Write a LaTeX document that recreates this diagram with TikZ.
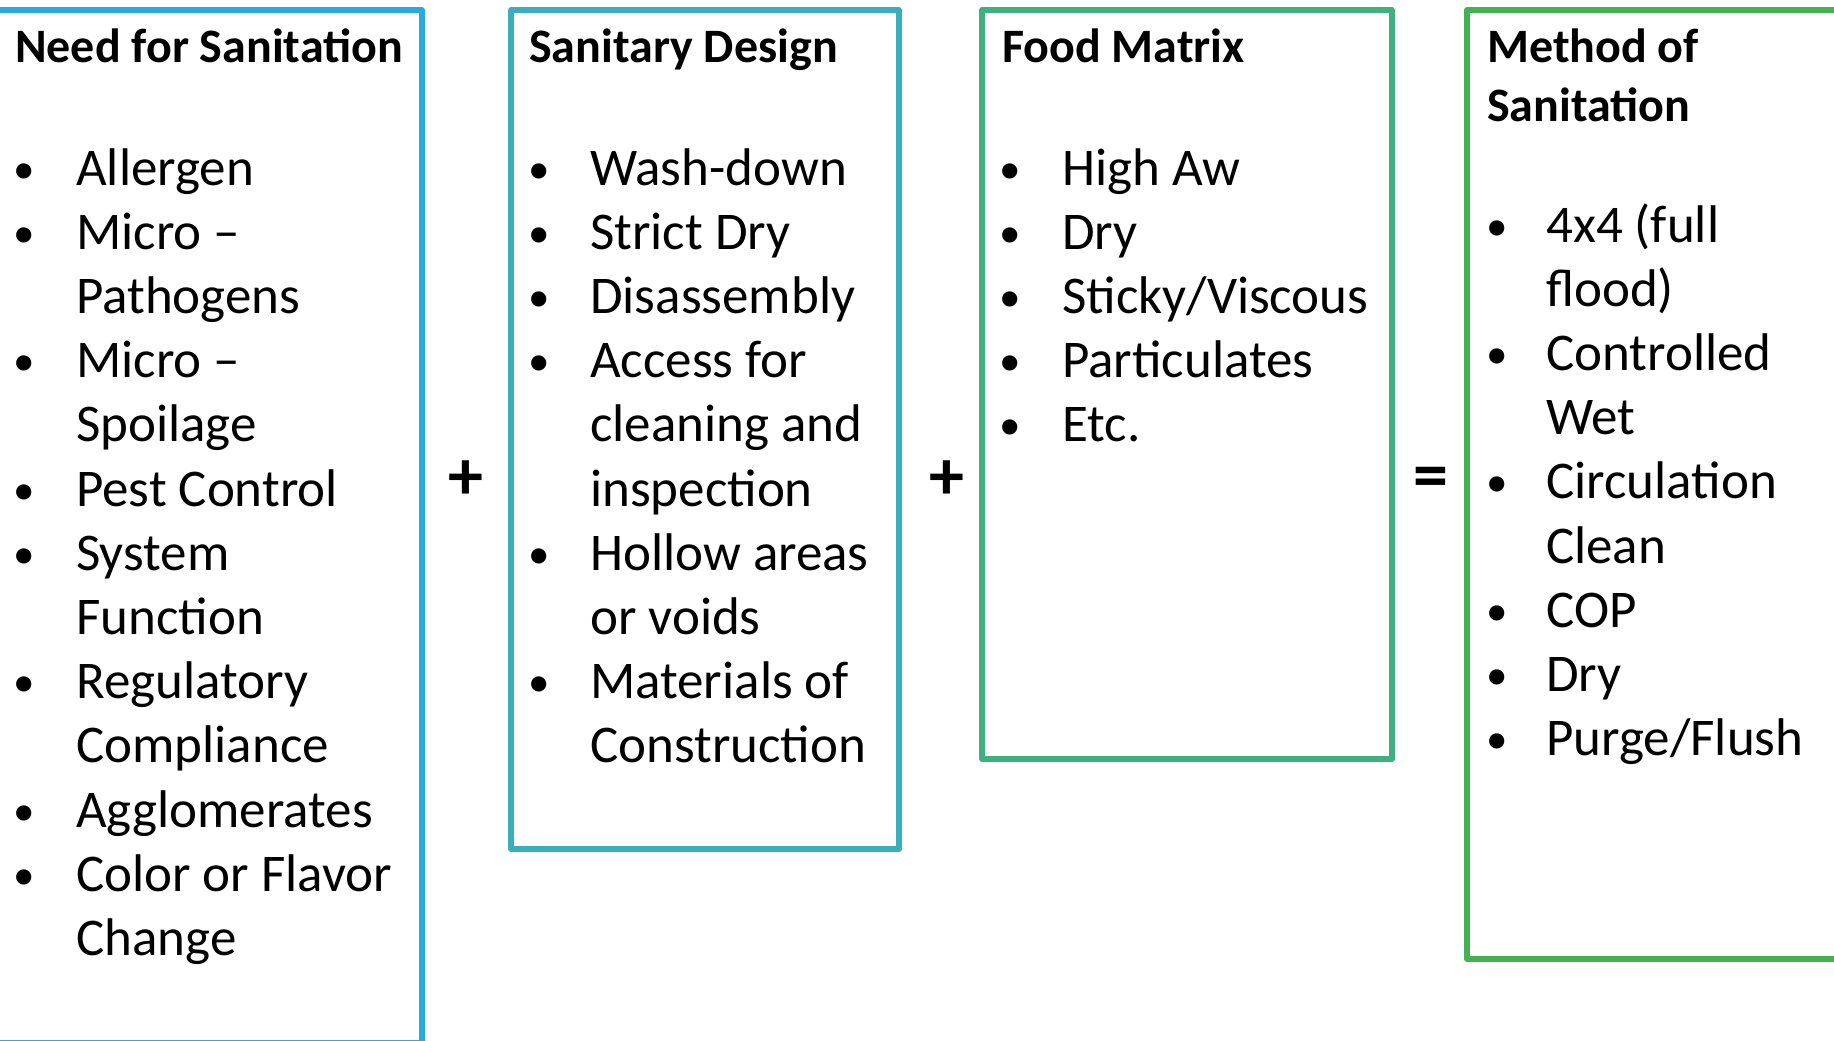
\documentclass[tikz,border=0pt]{standalone}
\usepackage{fontspec}
\setmainfont{Carlito}
\definecolor{cA}{RGB}{41,171,226}
\definecolor{cB}{RGB}{58,174,186}
\definecolor{cC}{RGB}{64,176,128}
\definecolor{cD}{RGB}{68,177,83}
\newcommand{\lines}[1]{\begin{tabular}[t]{@{}l@{}}#1\end{tabular}}
\begin{document}
\begin{tikzpicture}[x=1pt,y=-1pt,
  frame/.style={line width=5.5pt, line join=round},
  ttl/.style={anchor=base west, inner sep=0pt, font=\fontsize{48}{58.5}\selectfont\bfseries},
  itm/.style={anchor=base west, inner sep=0pt, font=\fontsize{53}{64.2}\selectfont},
  bul/.style={anchor=base, inner sep=0pt, yshift=2pt, font=\fontsize{43}{50}\selectfont},
  op/.style={inner sep=0pt, font=\fontsize{70}{70}\selectfont\bfseries}]
\useasboundingbox (0,0) rectangle (1834,1041);
\clip (0,0) rectangle (1834,1041);
\fill[white] (0,0) rectangle (1834,1041);
% frames
\draw[frame, cA] (-20,10) rectangle (422,1043);
\draw[frame, cB] (511,10) rectangle (899,849);
\draw[frame, cC] (982,10) rectangle (1392,759);
\draw[frame, cD] (1467,10) rectangle (1860,959);
% box 1
\node[ttl] (t1) at (15,63) {Need for Sanitation};
\foreach \y/\t [count=\i] in {185/Allergen, 249.2/{\lines{Micro --\\Pathogens}}, 377.6/{\lines{Micro --\\Spoilage}}, 506/Pest Control, 570.2/{\lines{System\\Function}}, 698.6/{\lines{Regulatory\\Compliance}}, 827/Agglomerates, 891.2/{\lines{Color or Flavor\\Change}}}{
  \node[bul] (b1\i) at (24,\y) {•};
  \node[itm] (i1\i) at (76,\y) {\t};
}
% box 2
\node[ttl] (t2) at (529,63) {Sanitary Design};
\foreach \y/\t [count=\i] in {185/Wash-down, 249.2/Strict Dry, 313.4/Disassembly, 377.6/{\lines{Access for\\cleaning and\\inspection}}, 570.2/{\lines{Hollow areas\\or voids}}, 698.6/{\lines{Materials of\\Construction}}}{
  \node[bul] (b2\i) at (539,\y) {•};
  \node[itm] (i2\i) at (590,\y) {\t};
}
% box 3
\node[ttl] (t3) at (1002,63) {Food Matrix};
\foreach \y/\t [count=\i] in {185/High Aw, 249.2/Dry, 313.4/{Sticky/Viscous}, 377.6/Particulates, 441.8/Etc.}{
  \node[bul] (b3\i) at (1010,\y) {•};
  \node[itm] (i3\i) at (1062,\y) {\t};
}
% box 4
\node[ttl] (t4) at (1487,63) {\lines{Method of\\Sanitation}};
\foreach \y/\t [count=\i] in {242/{\lines{4x4 (full\\flood)}}, 370.4/{\lines{Controlled\\Wet}}, 498.8/{\lines{Circulation\\Clean}}, 627.2/COP, 691.4/Dry, 755.6/{Purge/Flush}}{
  \node[bul] (b4\i) at (1497,\y) {•};
  \node[itm] (i4\i) at (1546,\y) {\t};
}
% operators
\node[op] (p1) at (466,480) {+};
\node[op] (p2) at (947,480) {+};
\node[op] (eq) at (1431,483) {=};
\end{tikzpicture}
\end{document}
